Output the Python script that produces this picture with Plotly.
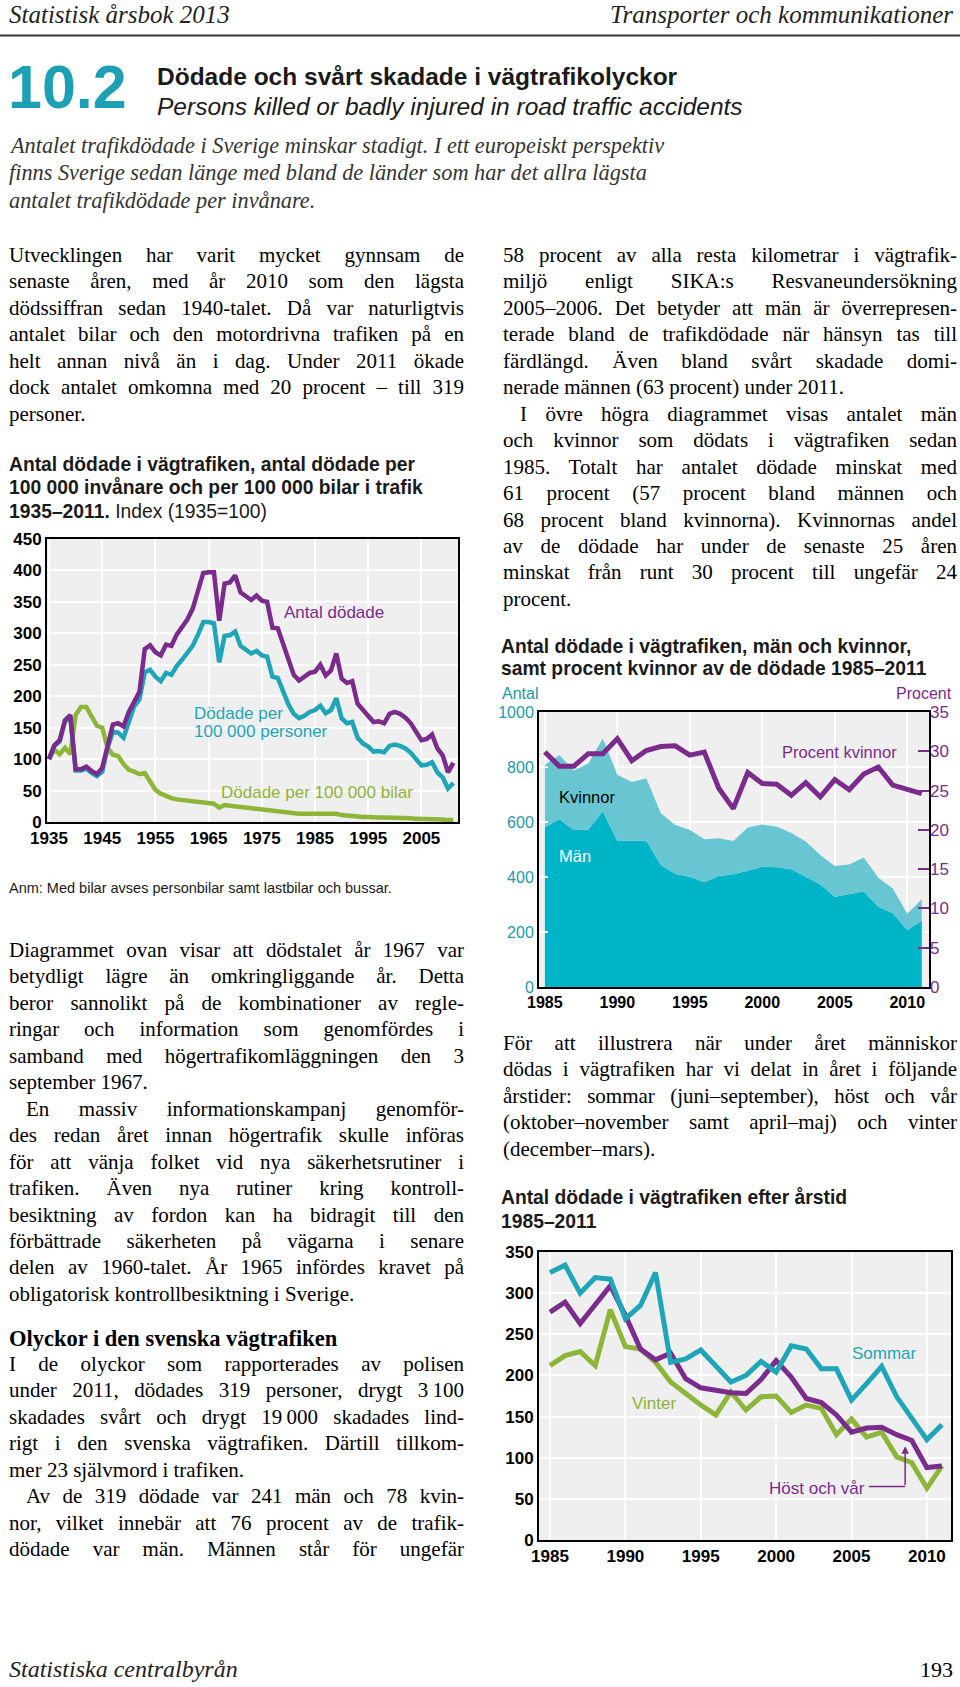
import json
import plotly.graph_objects as go

W, H = 960, 1687


def fx(x):
    return x / W


def fy(y):
    return 1 - y / H


# ---------------- data ----------------
ar1 = list(range(1935, 2012))
antal_dodade_index = [100, 122, 130, 162, 170, 84, 84, 88, 81, 76,
                      86, 124, 155, 157, 152, 175, 193, 207, 275, 281,
                      270, 265, 282, 280, 298, 309, 322, 339, 368, 396,
                      397, 397, 320, 379, 381, 392, 365, 358, 353, 360,
                      352, 350, 309, 308, 282, 255, 234, 225, 231, 237,
                      239, 250, 233, 241, 268, 228, 221, 224, 188, 178,
                      170, 159, 160, 157, 172, 175, 172, 166, 157, 142,
                      130, 132, 139, 117, 106, 79, 94]
dodade_per_personer_index = [100, 121, 128, 160, 167, 82, 82, 85, 78, 73,
                             80, 118, 143, 142, 134, 158, 184, 195, 238, 242,
                             231, 224, 237, 234, 248, 258, 270, 280, 298, 318,
                             318, 316, 254, 296, 297, 303, 280, 274, 268, 272,
                             265, 263, 231, 229, 208, 187, 172, 165, 169, 175,
                             178, 185, 173, 178, 197, 165, 157, 159, 134, 125,
                             120, 112, 113, 111, 121, 123, 121, 117, 110, 99,
                             90, 91, 95, 79, 71, 53, 62]
dodade_per_bilar_index = [100, 115, 108, 118, 108, 170, 183, 183, 168, 153,
                          150, 118, 107, 105, 92, 83, 80, 76, 78, 63,
                          51, 45, 41, 38, 36, 35, 34, 33, 33, 32,
                          30, 29, 23, 27, 26, 25, 23, 22, 22, 21,
                          20, 19, 17, 16, 15, 14, 13, 13, 13, 13,
                          13, 13, 12, 12, 13, 11, 10, 10, 9, 8,
                          8, 7, 7, 7, 7, 7, 7, 6, 6, 5,
                          5, 5, 5, 4, 4, 3, 3]
x1_ticks = [1935, 1945, 1955, 1965, 1975, 1985, 1995, 2005]
y1_ticks = [0, 50, 100, 150, 200, 250, 300, 350, 400, 450]

ar2 = list(range(1985, 2012))
dodade_totalt = [808, 844, 787, 813, 904, 772, 745, 759, 632, 589,
                 572, 537, 541, 531, 580, 591, 583, 560, 529, 480,
                 440, 445, 471, 397, 358, 266, 319]
dodade_man = [581, 610, 571, 573, 638, 532, 532, 532, 444, 411,
              401, 381, 404, 410, 423, 437, 435, 428, 401, 373,
              328, 337, 347, 292, 268, 207, 241]
procent_kvinnor = [29.9, 28.1, 28.1, 29.7, 29.7, 31.6, 28.8, 30.1, 30.6, 30.7,
                   29.5, 29.9, 25.3, 22.7, 27.3, 25.9, 25.8, 24.4, 26.0, 24.2,
                   26.4, 25.1, 27.1, 28.0, 25.7, 25.2, 24.6]
x2_ticks = [1985, 1990, 1995, 2000, 2005, 2010]
y2_ticks = [0, 200, 400, 600, 800, 1000]
y3_ticks = [0, 5, 10, 15, 20, 25, 30, 35]

ar3 = list(range(1985, 2012))
sommar = [325, 334, 300, 319, 317, 269, 285, 325, 216, 220,
          231, 212, 192, 200, 217, 204, 236, 232, 208, 208,
          170, 190, 211, 174, 148, 122, 140]
host_och_var = [277, 289, 263, 285, 309, 273, 232, 219, 227, 196,
                185, 182, 179, 178, 195, 218, 198, 172, 167, 152,
                131, 136, 137, 128, 121, 88, 90]
vinter = [212, 224, 229, 212, 280, 235, 232, 216, 192, 178,
          164, 152, 180, 158, 174, 175, 155, 164, 160, 128,
          147, 125, 131, 101, 94, 63, 90]
x4_ticks = [1985, 1990, 1995, 2000, 2005, 2010]
y4_ticks = [0, 50, 100, 150, 200, 250, 300, 350]

# ---------------- styles ----------------
PURPLE = '#7a2b8c'
TEAL = '#1ea6b8'
GREEN = '#8db53a'
MAN = '#00b4c8'
KVINNOR = '#68c6d3'
AXTEAL = '#1b9aab'
BG = '#efefef'
SANS = 'Liberation Sans, Arial, sans-serif'
SERIF = 'Liberation Serif, Times New Roman, serif'

fig = go.Figure()

# chart 1
fig.add_trace(go.Scatter(x=ar1, y=dodade_per_bilar_index, mode='lines',
                         line=dict(color=GREEN, width=4.5), xaxis='x', yaxis='y'))
fig.add_trace(go.Scatter(x=ar1, y=dodade_per_personer_index, mode='lines',
                         line=dict(color=TEAL, width=4.5), xaxis='x', yaxis='y'))
fig.add_trace(go.Scatter(x=ar1, y=antal_dodade_index, mode='lines',
                         line=dict(color=PURPLE, width=4.5), xaxis='x', yaxis='y'))

# chart 2
fig.add_trace(go.Scatter(x=ar2, y=dodade_man, mode='lines', fill='tozeroy',
                         fillcolor=MAN, line=dict(width=0, color=MAN),
                         xaxis='x2', yaxis='y2'))
fig.add_trace(go.Scatter(x=ar2, y=dodade_totalt, mode='lines', fill='tonexty',
                         fillcolor=KVINNOR, line=dict(width=0, color=KVINNOR),
                         xaxis='x2', yaxis='y2'))
fig.add_trace(go.Scatter(x=ar2, y=procent_kvinnor, mode='lines',
                         line=dict(color=PURPLE, width=5), xaxis='x2', yaxis='y3'))

# chart 3
fig.add_trace(go.Scatter(x=ar3, y=vinter, mode='lines',
                         line=dict(color=GREEN, width=5), xaxis='x3', yaxis='y4'))
fig.add_trace(go.Scatter(x=ar3, y=host_och_var, mode='lines',
                         line=dict(color=PURPLE, width=5), xaxis='x3', yaxis='y4'))
fig.add_trace(go.Scatter(x=ar3, y=sommar, mode='lines',
                         line=dict(color=TEAL, width=5), xaxis='x3', yaxis='y4'))

frame = dict(showline=True, linecolor='black', linewidth=2, mirror=True,
             showgrid=True, gridcolor='white', gridwidth=2, zeroline=False,
             automargin=False)

layout = dict(
    width=W, height=H, autosize=False,
    margin=dict(l=0, r=0, t=0, b=0, pad=0),
    paper_bgcolor='white', plot_bgcolor=BG, showlegend=False,
    xaxis=dict(domain=[fx(47), fx(458)], range=[1934.62, 2011.88],
               tickvals=x1_ticks, ticks='', anchor='y',
               tickfont=dict(family=SANS, size=17, color='black', weight='bold'), **frame),
    yaxis=dict(domain=[fy(822), fy(539)], range=[0, 450], tickvals=y1_ticks,
               ticks='', anchor='x',
               tickfont=dict(family=SANS, size=17, color='black', weight='bold'), **frame),
    xaxis2=dict(domain=[fx(539), fx(929)], range=[1984.6, 2011.5],
                tickvals=x2_ticks, ticks='', anchor='y2',
                tickfont=dict(family=SANS, size=16, color='black', weight='bold'), **frame),
    yaxis2=dict(domain=[fy(987), fy(712)], range=[0, 1000], tickvals=y2_ticks,
                ticks='inside', ticklen=9, tickwidth=2, tickcolor='white', anchor='x2',
                tickfont=dict(family=SANS, size=16, color=AXTEAL), **frame),
    yaxis3=dict(overlaying='y2', side='right', anchor='x2', range=[0, 35],
                tickvals=y3_ticks, ticks='inside', ticklen=11, tickwidth=2,
                tickcolor=PURPLE, showgrid=False, zeroline=False, showline=False,
                automargin=False,
                tickfont=dict(family=SANS, size=17, color=PURPLE)),
    xaxis3=dict(domain=[fx(539), fx(951)], range=[1984.27, 2011.6],
                tickvals=x4_ticks, ticks='', anchor='y4',
                tickfont=dict(family=SANS, size=17, color='black', weight='bold'), **frame),
    yaxis4=dict(domain=[fy(1540), fy(1252)], range=[0, 350], tickvals=y4_ticks,
                ticks='', anchor='x3',
                tickfont=dict(family=SANS, size=17, color='black', weight='bold'), **frame),
)
fig.update_layout(**layout)

ann = []
justify = {}


def txt(x, y, s, size, family=SERIF, color='black', xanchor='left'):
    ann.append(dict(x=fx(x), y=fy(y), xref='paper', yref='paper', text=s,
                    showarrow=False, xanchor=xanchor, yanchor='middle',
                    font=dict(family=family, size=size, color=color), align='left'))


def para(lines, x0, right, y0, ls, size, indent_first=0, justify_last=False):
    for i, s in enumerate(lines):
        x = x0 + (indent_first if i == 0 else 0)
        txt(x, y0 + i * ls, s, size)
        if i < len(lines) - 1 or justify_last:
            justify[s] = right - x


# header
txt(7, 15, '<i>Statistisk årsbok 2013</i>', 25, color='#222222')
txt(955, 15, '<i>Transporter och kommunikationer</i>', 25, color='#222222', xanchor='right')
txt(6, 87, '<b>10.2</b>', 61, family=SANS, color='#1ea0b4')
txt(155, 77, '<b>Dödade och svårt skadade i vägtrafikolyckor</b>', 24.5, family=SANS, color='#1a1a1a')
txt(155, 106, '<i>Persons killed or badly injured in road traffic accidents</i>', 24.5, family=SANS, color='#1a1a1a')

intro = ['Antalet trafikdödade i Sverige minskar stadigt. I ett europeiskt perspektiv',
         'finns Sverige sedan länge med bland de länder som har det allra lägsta',
         'antalet trafikdödade per invånare.']
for i, s in enumerate(intro):
    txt(7, 145 + i * 27.5, '<i>' + s + '</i>', 22.3, color='#333333')

LS = 26.45
FS = 21
para(['Utvecklingen har varit mycket gynnsam de',
      'senaste åren, med år 2010 som den lägsta',
      'dödssiffran sedan 1940-talet. Då var naturligtvis',
      'antalet bilar och den motordrivna trafiken på en',
      'helt annan nivå än i dag. Under 2011 ökade',
      'dock antalet omkomna med 20 procent – till 319',
      'personer.'], 7, 462, 255, LS, FS)

para(['58 procent av alla resta kilometrar i vägtrafik-',
      'miljö enligt SIKA:s Resvaneundersökning',
      '2005–2006. Det betyder att män är överrepresen-',
      'terade bland de trafikdödade när hänsyn tas till',
      'färdlängd. Även bland svårt skadade domi-',
      'nerade männen (63 procent) under 2011.'], 501, 955, 255, LS, FS)
para(['I övre högra diagrammet visas antalet män',
      'och kvinnor som dödats i vägtrafiken sedan',
      '1985. Totalt har antalet dödade minskat med',
      '61 procent (57 procent bland männen och',
      '68 procent bland kvinnorna). Kvinnornas andel',
      'av de dödade har under de senaste 25 åren',
      'minskat från runt 30 procent till ungefär 24',
      'procent.'], 501, 955, 255 + 6 * LS, LS, FS, indent_first=17)

# chart 1 title and labels
c1t = ['<b>Antal dödade i vägtrafiken, antal dödade per</b>',
       '<b>100 000 invånare och per 100 000 bilar i trafik</b>',
       '<b>1935–2011.</b> Index (1935=100)']
for i, s in enumerate(c1t):
    txt(7, 464 + i * 23.5, s, 19.3, family=SANS, color='#1a1a1a')
txt(282, 612, 'Antal dödade', 17, family=SANS, color=PURPLE)
txt(192, 713, 'Dödade per', 17, family=SANS, color=TEAL)
txt(192, 731, '100 000 personer', 17, family=SANS, color=TEAL)
txt(219, 792, 'Dödade per 100 000 bilar', 17, family=SANS, color=GREEN)
txt(7, 888, 'Anm: Med bilar avses personbilar samt lastbilar och bussar.', 14.5, family=SANS, color='#1a1a1a')

para(['Diagrammet ovan visar att dödstalet år 1967 var',
      'betydligt lägre än omkringliggande år. Detta',
      'beror sannolikt på de kombinationer av regle-',
      'ringar och information som genomfördes i',
      'samband med högertrafikomläggningen den 3',
      'september 1967.'], 7, 462, 950, LS, FS)
para(['En massiv informationskampanj genomför-',
      'des redan året innan högertrafik skulle införas',
      'för att vänja folket vid nya säkerhetsrutiner i',
      'trafiken. Även nya rutiner kring kontroll-',
      'besiktning av fordon kan ha bidragit till den',
      'förbättrade säkerheten på vägarna i senare',
      'delen av 1960-talet. År 1965 infördes kravet på',
      'obligatorisk kontrollbesiktning i Sverige.'], 7, 462, 950 + 6 * LS, LS, FS, indent_first=17)
txt(7, 1338, '<b>Olyckor i den svenska vägtrafiken</b>', 22.5)
para(['I de olyckor som rapporterades av polisen',
      'under 2011, dödades 319 personer, drygt 3\u2009100',
      'skadades svårt och drygt 19\u2009000 skadades lind-',
      'rigt i den svenska vägtrafiken. Därtill tillkom-',
      'mer 23 självmord i trafiken.'], 7, 462, 1364, LS, FS)
para(['Av de 319 dödade var 241 män och 78 kvin-',
      'nor, vilket innebär att 76 procent av de trafik-',
      'dödade var män. Männen står för ungefär'], 7, 462, 1364 + 5 * LS, LS, FS,
     indent_first=17, justify_last=True)

# chart 2 title and labels
txt(499, 646, '<b>Antal dödade i vägtrafiken, män och kvinnor,</b>', 19.3, family=SANS, color='#1a1a1a')
txt(499, 669, '<b>samt procent kvinnor av de dödade 1985–2011</b>', 19.3, family=SANS, color='#1a1a1a')
txt(500, 693, 'Antal', 16, family=SANS, color=AXTEAL)
txt(954, 693, 'Procent', 16, family=SANS, color=PURPLE, xanchor='right')
txt(780, 752, 'Procent kvinnor', 16.5, family=SANS, color=PURPLE)
txt(557, 797, 'Kvinnor', 16.5, family=SANS, color='black')
txt(557, 856, 'Män', 16.5, family=SANS, color='white')

para(['För att illustrera när under året människor',
      'dödas i vägtrafiken har vi delat in året i följande',
      'årstider: sommar (juni–september), höst och vår',
      '(oktober–november samt april–maj) och vinter',
      '(december–mars).'], 501, 955, 1043, LS, FS)

# chart 3 title and labels
txt(499, 1197, '<b>Antal dödade i vägtrafiken efter årstid</b>', 19.3, family=SANS, color='#1a1a1a')
txt(499, 1221, '<b>1985–2011</b>', 19.3, family=SANS, color='#1a1a1a')
txt(850, 1353, 'Sommar', 17, family=SANS, color=TEAL)
txt(630, 1403, 'Vinter', 17, family=SANS, color=GREEN)
txt(867, 1488, 'Höst och vår', 17, family=SANS, color=PURPLE, xanchor='right')
ann.append(dict(x=2008.56, y=114, xref='x3', yref='y4', ax=2008.56, ay=65,
                axref='x3', ayref='y4', text='', showarrow=True, arrowhead=2,
                arrowsize=1, arrowwidth=1.5, arrowcolor=PURPLE, standoff=0, startstandoff=0))

# footer
txt(7, 1669, '<i>Statistiska centralbyrån</i>', 24, color='#222222')
txt(955, 1669, '193', 22, xanchor='right')

fig.update_layout(annotations=ann)

fig.add_shape(type='line', xref='paper', yref='paper', x0=0, x1=1, y0=fy(35.5), y1=fy(35.5),
              line=dict(color='#333333', width=2))
fig.add_shape(type='line', xref='x3', yref='y4', x0=2006.15, x1=2008.56, y0=65, y1=65,
              line=dict(color=PURPLE, width=1.5))

js = """
document.body.style.margin='0';
var J = %s;
document.querySelectorAll('text.annotation-text').forEach(function(el){
  var t = el.textContent;
  if (Object.prototype.hasOwnProperty.call(J, t)) {
    var n = (t.match(/ /g) || []).length;
    if (n > 0) {
      var w = el.getComputedTextLength();
      el.style.wordSpacing = ((J[t] - w) / n) + 'px';
    }
  }
});
""" % json.dumps(justify)

fig.write_html('out.html', config={'displayModeBar': False}, post_script=js)
